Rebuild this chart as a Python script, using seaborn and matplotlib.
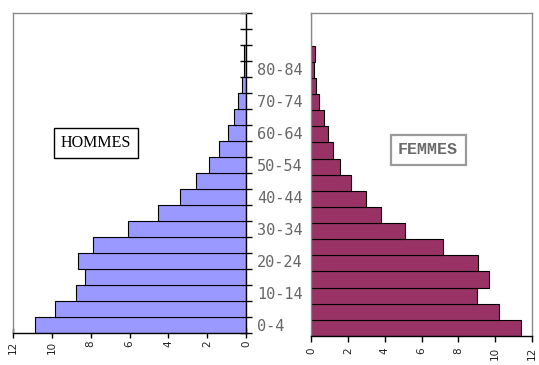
import matplotlib
matplotlib.use("Agg")
import matplotlib.pyplot as plt
import seaborn as sns
import pandas as pd
from matplotlib.ticker import FixedLocator, FixedFormatter, NullFormatter

ages = ["0-4", "5-9", "10-14", "15-19", "20-24", "25-29", "30-34", "35-39",
        "40-44", "45-49", "50-54", "55-59", "60-64", "65-69", "70-74",
        "75-79", "80-84", "85-89", "90-94", "95-99"]
hommes = [10.88, 9.83, 8.78, 8.27, 8.66, 7.87, 6.09, 4.54, 3.39, 2.58,
          1.93, 1.41, 0.95, 0.60, 0.40, 0.19, 0.12, 0.08, 0.0, 0.0]
femmes = [11.41, 10.19, 9.03, 9.67, 9.09, 7.19, 5.08, 3.80, 2.97, 2.18,
          1.58, 1.20, 0.91, 0.67, 0.44, 0.26, 0.16, 0.21, 0.0, 0.0]
xticks = [0, 2, 4, 6, 8, 10, 12]
shown_labels = ["0-4", "10-14", "20-24", "30-34", "40-44", "50-54",
                "60-64", "70-74", "80-84"]

df = pd.DataFrame({"age": ages, "hommes": hommes, "femmes": femmes})

sns.set_style("white")
fig = plt.figure(figsize=(5.39, 3.65), dpi=100)
W, H = 539, 365
axL = fig.add_axes([13 / W, 1 - 333 / H, 233 / W, 320 / H])
axR = fig.add_axes([311.3 / W, 1 - 336 / H, 220.5 / W, 322.7 / H])

sns.barplot(data=df, x="hommes", y="age", order=ages, orient="h",
            color="#9999FF", saturation=1, edgecolor="black", linewidth=0.8,
            width=1.0, ax=axL)
sns.barplot(data=df, x="femmes", y="age", order=ages, orient="h",
            color="#993366", saturation=1, edgecolor="black", linewidth=0.8,
            width=1.0, ax=axR)

n = len(ages)
bounds = [i - 0.5 for i in range(n + 1)]
label_pos = [ages.index(a) for a in shown_labels]

for ax in (axL, axR):
    ax.set_ylim(-0.5, n - 0.5)
    ax.set_xlabel("")
    ax.set_ylabel("")
    ax.set_xticks(xticks)
    ax.set_xticklabels([str(t) for t in xticks], rotation=90, fontsize=7.5,
                       color="#222222", family="DejaVu Sans")
    ax.grid(False)

axL.set_xlim(12, 0)
axR.set_xlim(0, 12)

# left panel: y axis on the right with tick marks at category boundaries
axL.yaxis.tick_right()
axL.yaxis.set_major_locator(FixedLocator(bounds))
axL.yaxis.set_major_formatter(NullFormatter())
axL.yaxis.set_minor_locator(FixedLocator(label_pos))
axL.yaxis.set_minor_formatter(FixedFormatter(shown_labels))
axL.tick_params(axis="y", which="major", direction="inout", length=9,
                width=1, color="black", right=True, left=False)
axL.tick_params(axis="y", which="minor", length=0, pad=8, labelsize=11,
                labelcolor="#666666", right=True, left=False,
                labelright=True, labelleft=False)
for lab in axL.yaxis.get_minorticklabels():
    lab.set_family("DejaVu Sans Mono")
axL.tick_params(axis="x", direction="inout", length=7, width=1,
                color="black", bottom=True, pad=2)
for side, col in (("top", "#8a8a8a"), ("left", "#8a8a8a"),
                  ("right", "black"), ("bottom", "black")):
    axL.spines[side].set_visible(True)
    axL.spines[side].set_color(col)
    axL.spines[side].set_linewidth(1)

# right panel
axR.set_yticks([])
axR.tick_params(axis="x", direction="out", length=4, width=1,
                color="black", bottom=True, pad=4)
for side, col in (("top", "#8a8a8a"), ("left", "#8a8a8a"),
                  ("right", "#8a8a8a"), ("bottom", "black")):
    axR.spines[side].set_visible(True)
    axR.spines[side].set_color(col)
    axR.spines[side].set_linewidth(1)

# labels
fig.text(96 / W, 1 - 143 / H, "HOMMES", ha="center", va="center",
         family="Liberation Serif", fontsize=11.5, color="black",
         bbox=dict(boxstyle="square,pad=0.45", fc="white", ec="black", lw=1))
fig.text(428 / W, 1 - 150 / H, "FEMMES", ha="center", va="center",
         family="Liberation Mono", fontweight="bold", fontsize=12,
         color="#6a6a6a",
         bbox=dict(boxstyle="square,pad=0.45", fc="white", ec="#9a9a9a",
                   lw=1.6))

fig.savefig("out.png", dpi=100)
